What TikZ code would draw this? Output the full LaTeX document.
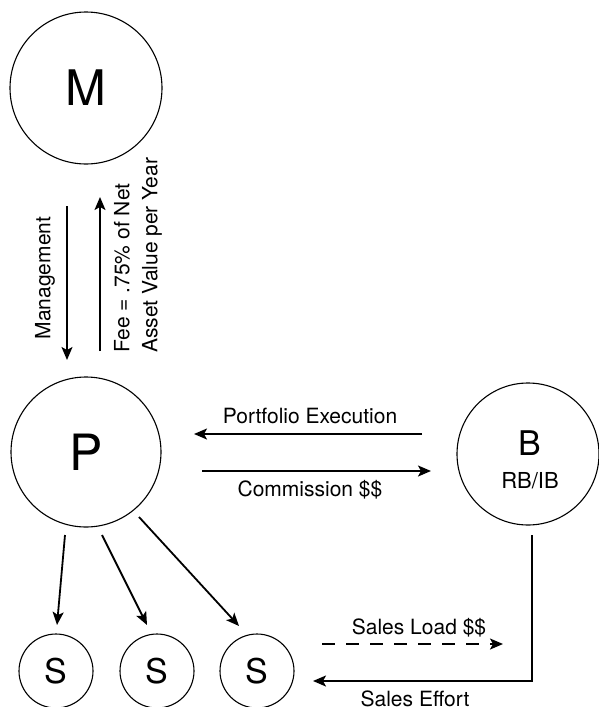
\documentclass[tikz,border=0pt]{standalone}
\usepackage{fontspec}
\setmainfont{TeX Gyre Heros}
\usetikzlibrary{arrows.meta}
\begin{document}
\begin{tikzpicture}[x=1pt,y=-1pt,
  party/.style={draw, circle, line width=1.1pt, inner sep=0pt},
  flow/.style={line width=1.8pt, -{Stealth[length=13pt,width=11pt,inset=3pt]}},
  lbl/.style={inner sep=0pt, font=\fontsize{21}{28}\selectfont}]
\useasboundingbox (0,0) rectangle (599,707);

% parties
\node[party, minimum size=152pt, font=\fontsize{49}{49}\selectfont] (M) at (86,88) {M};
\node[party, minimum size=150pt, font=\fontsize{50}{50}\selectfont] (P) at (86,452) {P};
\node[party, minimum size=142pt] (B) at (528,454) {};
\node[inner sep=0pt, font=\fontsize{34}{34}\selectfont] (Bname) at (530,443) {B};
\node[lbl, font=\fontsize{22}{22}\selectfont] (Btype) at (530,481) {RB/IB};
\node[party, minimum size=74pt, font=\fontsize{34}{34}\selectfont] (S1) at (56,671) {S};
\node[party, minimum size=74pt, font=\fontsize{34}{34}\selectfont] (S2) at (157,671) {S};
\node[party, minimum size=74pt, font=\fontsize{34}{34}\selectfont] (S3) at (257,671) {S};

% free ends of the connectors
\coordinate (mgA) at (67,206);  \coordinate (mgB) at (67,360);
\coordinate (feA) at (100,351); \coordinate (feB) at (100,197);
\coordinate (peA) at (422,434); \coordinate (peB) at (194,434);
\coordinate (coA) at (202,471); \coordinate (coB) at (431,471);
\coordinate (d1A) at (65,535);  \coordinate (d1B) at (57,625);
\coordinate (d2A) at (102,535); \coordinate (d2B) at (147,625);
\coordinate (d3A) at (139,517); \coordinate (d3B) at (239,626);
\coordinate (slA) at (322,644); \coordinate (slB) at (503,644);
\coordinate (seA) at (532,535); \coordinate (seC) at (532,681); \coordinate (seB) at (313,681);

% M <-> P
\draw[flow] (mgA) -- (mgB);
\draw[flow] (feA) -- (feB);
\node[lbl, rotate=90] (mgt) at (45,278) {Management};
\node[lbl, rotate=90, anchor=west, align=left] (fet) at (138,353) {Fee = .75\% of Net\\Asset Value per Year};

% P <-> B
\draw[flow] (peA) -- (peB);
\node[lbl] (pet) at (310,416) {Portfolio Execution};
\draw[flow] (coA) -- (coB);
\node[lbl] (cot) at (310,490) {Commission \$\$};

% P -> S
\draw[flow] (d1A) -- (d1B);
\draw[flow] (d2A) -- (d2B);
\draw[flow] (d3A) -- (d3B);

% S <-> B
\draw[flow, dash pattern=on 13pt off 11pt] (slA) -- (slB);
\node[lbl] (slt) at (419,628) {Sales Load \$\$};
\draw[flow] (seA) -- (seC) -- (seB);
\node[lbl] (set) at (415,699) {Sales Effort};
\end{tikzpicture}
\end{document}
